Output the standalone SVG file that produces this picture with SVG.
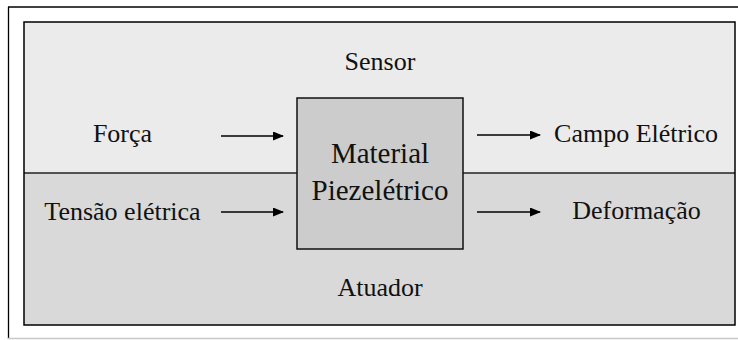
<svg xmlns="http://www.w3.org/2000/svg" width="738" height="340" viewBox="0 0 738 340">
  <defs>
    <marker id="arrowhead" markerWidth="11" markerHeight="9" refX="10" refY="4.5" orient="auto" markerUnits="userSpaceOnUse">
      <path d="M0,0 L11,4.5 L0,9 Z" fill="#000"/>
    </marker>
    <style>
      text { font-family: 'Times New Roman', Tinos, 'Nimbus Roman', 'Liberation Serif', 'DejaVu Serif', serif; fill: #111; text-anchor: middle; }
      .lbl { font-size: 26px; }
      .core { font-size: 29px; }
      .arrow { stroke: #000; stroke-width: 1.4; fill: none; marker-end: url(#arrowhead); }
    </style>
  </defs>

  <rect x="0" y="0" width="738" height="340" fill="#ffffff"/>

  <!-- page frame -->
  <g id="frame">
    <line x1="8.5" y1="7" x2="8.5" y2="339" stroke="#000" stroke-width="1.3"/>
    <line x1="8" y1="7" x2="738" y2="7" stroke="#000" stroke-width="1.3"/>
    <line x1="8" y1="338.5" x2="738" y2="338.5" stroke="#c8c8c8" stroke-width="1.3"/>
  </g>

  <!-- sensor band (top) -->
  <g id="sensor">
    <rect x="24" y="22" width="711" height="151" fill="#ebebeb"/>
    <text class="lbl" x="380" y="70">Sensor</text>
  </g>

  <!-- actuator band (bottom) -->
  <g id="atuador">
    <rect x="24" y="173" width="711" height="152" fill="#d9d9d9"/>
    <line x1="24" y1="173" x2="735" y2="173" stroke="#222" stroke-width="1.5"/>
    <text class="lbl" x="380" y="296">Atuador</text>
  </g>

  <rect x="24" y="22" width="711" height="303" fill="none" stroke="#000" stroke-width="1.5"/>

  <!-- central element -->
  <g id="material">
    <rect x="297" y="98" width="166" height="151" fill="#cccccc" stroke="#111" stroke-width="1.5"/>
    <text class="core" x="380" y="163">Material</text>
    <text class="core" x="380" y="200">Piezelétrico</text>
  </g>

  <g id="forca">
    <text class="lbl" x="122.5" y="142">Força</text>
  </g>
  <g id="tensao">
    <text class="lbl" x="122.5" y="220">Tensão elétrica</text>
  </g>
  <g id="campo">
    <text class="lbl" x="636" y="142">Campo Elétrico</text>
  </g>
  <g id="deformacao">
    <text class="lbl" x="636.5" y="219">Deformação</text>
  </g>

  <!-- connectors -->
  <g id="connectors">
    <line class="arrow" x1="221" y1="136" x2="283" y2="136"/>
    <line class="arrow" x1="221" y1="212" x2="283" y2="212"/>
    <line class="arrow" x1="477" y1="135" x2="540" y2="135"/>
    <line class="arrow" x1="477" y1="212" x2="540" y2="212"/>
  </g>
</svg>
